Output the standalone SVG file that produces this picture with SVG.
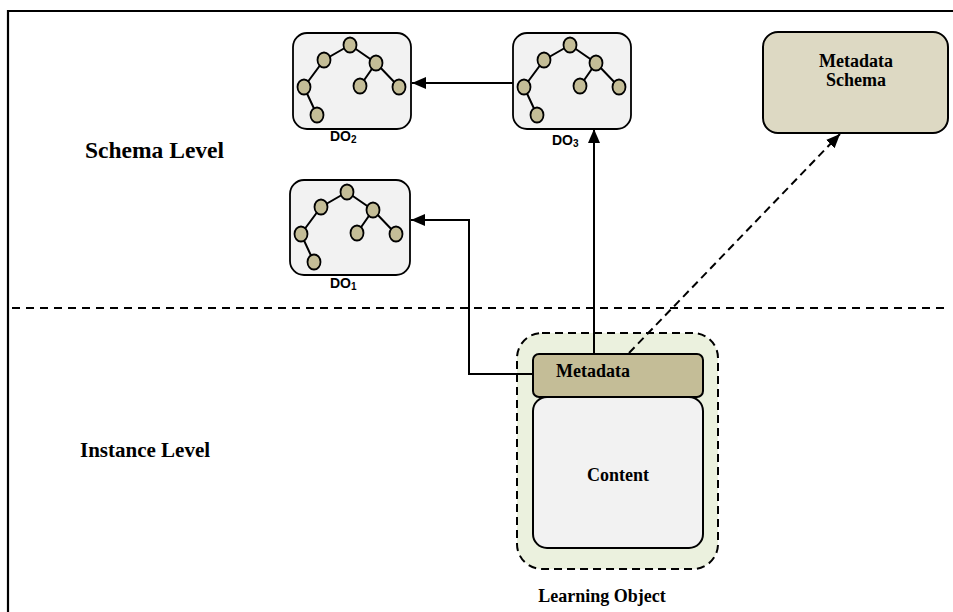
<svg xmlns="http://www.w3.org/2000/svg" xmlns:xlink="http://www.w3.org/1999/xlink" width="953" height="612" viewBox="0 0 953 612">
<style>
.frame{fill:none;stroke:#000;stroke-width:2.2}
.sep{fill:none;stroke:#000;stroke-width:2;stroke-dasharray:8 6}
.dobox{fill:#f2f2f2;stroke:#000;stroke-width:1.8}
.tn{fill:#c4bd97;stroke:#000;stroke-width:1.8}
.te{stroke:#000;stroke-width:2;fill:none}
.conn{fill:none;stroke:#000;stroke-width:2}
.dash{fill:none;stroke:#000;stroke-width:2;stroke-dasharray:8 5}
.lvl{font-family:"Liberation Serif",serif;font-weight:bold;fill:#000}
.lbl{font-family:"Liberation Serif",serif;font-weight:bold;font-size:18px;fill:#000}
.dol{font-family:"Liberation Sans",Arial,sans-serif;font-weight:bold;font-size:14px;fill:#000}
</style>
<defs>
<marker id="ah" viewBox="0 0 14 12" refX="14" refY="6" markerWidth="14" markerHeight="12" markerUnits="userSpaceOnUse" orient="auto">
<path d="M0,0 L14,6 L0,12 Z" fill="#000"/>
</marker>
<g id="tree">
<path class="te" d="M57,12 L31,27 L11,54 L24,82 M57,12 L83,30 L67,53 M83,30 L106,54"/>
<ellipse class="tn" cx="57" cy="12" rx="6.5" ry="7.5"/>
<ellipse class="tn" cx="31" cy="27" rx="6.5" ry="7.5"/>
<ellipse class="tn" cx="83" cy="30" rx="6.5" ry="7.5"/>
<ellipse class="tn" cx="11" cy="54" rx="6.5" ry="7.5"/>
<ellipse class="tn" cx="67" cy="53" rx="6.5" ry="7.5"/>
<ellipse class="tn" cx="106" cy="54" rx="6.5" ry="7.5"/>
<ellipse class="tn" cx="24" cy="82" rx="6.5" ry="7.5"/>
</g>
</defs>
<rect width="953" height="612" fill="#fff"/>
<path class="frame" d="M8,612 L8,11 L953,11"/>
<line class="sep" x1="12" y1="308" x2="946" y2="308"/>
<text class="lvl" x="85" y="158" font-size="23.5">Schema Level</text>
<text class="lvl" x="80" y="457" font-size="21">Instance Level</text>

<g id="do2">
<rect class="dobox" x="293" y="33" width="118" height="96" rx="14"/>
<use xlink:href="#tree" x="293" y="33"/>
<text class="dol" x="330" y="141">DO<tspan font-size="10" dy="2">2</tspan></text>
</g>
<g id="do3">
<rect class="dobox" x="513" y="33" width="118" height="96" rx="14"/>
<use xlink:href="#tree" x="513" y="33"/>
<text class="dol" x="552" y="145">DO<tspan font-size="10" dy="2">3</tspan></text>
</g>
<g id="do1">
<rect class="dobox" x="290" y="180" width="120" height="95" rx="14"/>
<use xlink:href="#tree" x="290" y="180"/>
<text class="dol" x="330" y="288">DO<tspan font-size="10" dy="2">1</tspan></text>
</g>
<g id="schema">
<rect x="763" y="32" width="185" height="101" rx="15" fill="#ddd9c3" stroke="#000" stroke-width="2"/>
<text class="lbl" x="856" y="67" text-anchor="middle">Metadata</text>
<text class="lbl" x="856" y="86" text-anchor="middle">Schema</text>
</g>
<g id="learning-object">
<rect x="517" y="333" width="201" height="236" rx="25" fill="#ebf1de" stroke="#000" stroke-width="2" stroke-dasharray="8 5"/>
<text class="lbl" x="602" y="602" text-anchor="middle">Learning Object</text>
</g>
<g id="content">
<rect x="533" y="397" width="170" height="151" rx="14" fill="#f2f2f2" stroke="#000" stroke-width="2"/>
<text class="lbl" x="618" y="481" text-anchor="middle">Content</text>
</g>
<g id="metadata">
<rect x="533" y="354" width="170" height="43" rx="6" fill="#c4bd97" stroke="#000" stroke-width="2"/>
<text class="lbl" x="593" y="377" text-anchor="middle">Metadata</text>
</g>
<g id="connectors">
<line class="conn" x1="513" y1="83" x2="412" y2="83" marker-end="url(#ah)"/>
<line class="conn" x1="594" y1="354" x2="594" y2="129" marker-end="url(#ah)"/>
<polyline class="conn" points="533,374 469,374 469,220 411,220" marker-end="url(#ah)"/>
<line class="dash" x1="629" y1="353" x2="840" y2="134" marker-end="url(#ah)"/>
</g>
</svg>
